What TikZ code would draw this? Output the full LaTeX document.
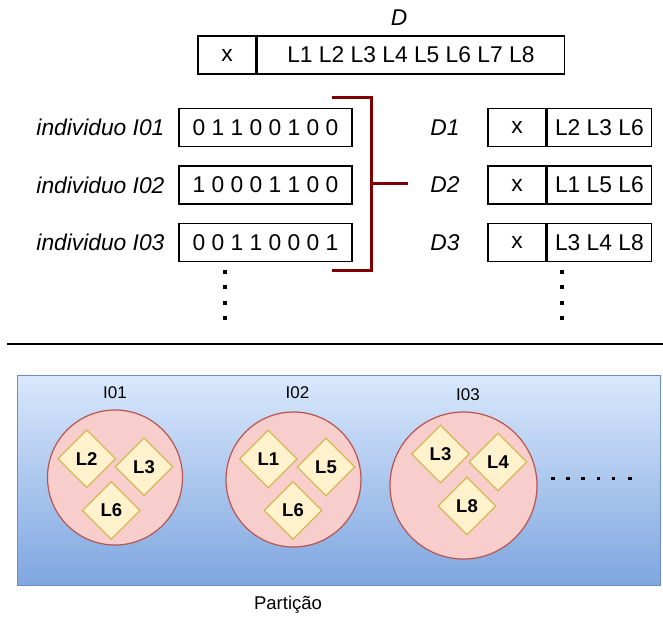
\documentclass[tikz,border=0pt]{standalone}
\usepackage{fontspec}
\setmainfont{Liberation Sans}
\usepackage{tikz}
\usetikzlibrary{positioning, shapes.geometric}
\usepackage{xcolor}
\definecolor{brackred}{HTML}{800000}
\definecolor{grpfill}{HTML}{F8CECC}
\definecolor{grpline}{HTML}{B85450}
\definecolor{itemfill}{HTML}{FFF2CC}
\definecolor{itemline}{HTML}{D6B656}
\definecolor{parttop}{HTML}{DAE8FC}
\definecolor{partbot}{HTML}{7EA6E0}
\definecolor{partline}{HTML}{6C8EBF}
\tikzset{%
	cell/.style={
		draw,
		line width=1.4pt,
		minimum height=38pt,
		inner sep=0pt,
		font=\fontsize{22.8}{26}\selectfont
	},
	rowlabel/.style={
		font=\fontsize{22.8}{26}\selectfont\itshape
	},
	group/.style={
		circle,
		draw=grpline,
		fill=grpfill,
		line width=1.2pt,
		inner sep=0pt
	},
	grouplabel/.style={
		font=\fontsize{17}{20}\selectfont
	},
	item/.style={
		diamond,
		draw=itemline,
		fill=itemfill,
		line width=1.2pt,
		minimum width=58pt,
		minimum height=58pt,
		inner sep=0pt,
		font=\fontsize{18.5}{21}\selectfont\bfseries
	},
	partbox/.style={
		draw=partline,
		line width=1pt,
		top color=parttop,
		bottom color=partbot,
		inner sep=0pt
	},
	bracket/.style={
		draw=brackred,
		line width=3pt
	},
}

\begin{document}
\begin{tikzpicture}[x=1pt,y=-1pt]
			\useasboundingbox (0,0) rectangle (663,617);
			
			% Draw the full set D
			\node[rowlabel] (dlabel) at (399,18) {D};
			\node[cell, minimum width=58pt] (dx) at (227,55) {x};
			\node[cell, minimum width=307pt, right=0pt of dx] (dall) {L1 L2 L3 L4 L5 L6 L7 L8};
			
			% Draw the individuals
			\node[cell, minimum width=173pt] (i1) at (265.5,127.5) {0 1 1 0 0 1 0 0};
			\node[cell, minimum width=173pt] (i2) at (265.5,185) {1 0 0 0 1 1 0 0};
			\node[cell, minimum width=173pt] (i3) at (265.5,242.5) {0 0 1 1 0 0 0 1};
			\node[rowlabel, anchor=east] (i1label) at (168,127.5) {individuo I01};
			\node[rowlabel, anchor=east] (i2label) at (168,185) {individuo I02};
			\node[rowlabel, anchor=east] (i3label) at (168,242.5) {individuo I03};
			\foreach \y in {272,287.3,302.7,318}
				\fill (223.3,\y-2) rectangle (226.7,\y+2);
			
			% Draw the bracket
			\coordinate (btop) at (332,98);
			\coordinate (bbot) at (332,271);
			\coordinate (bmid) at (371,184);
			\coordinate (bend) at (408,184);
			\draw[bracket] (btop) -| (bmid) |- (bbot);
			\draw[bracket] (bmid) -- (bend);
			
			% Draw the subsets D1 D2 D3
			\node[rowlabel] (d1label) at (445,128) {D1};
			\node[rowlabel] (d2label) at (445,185) {D2};
			\node[rowlabel] (d3label) at (445,242.5) {D3};
			\node[cell, minimum width=58pt] (d1x) at (517,127.5) {x};
			\node[cell, minimum width=104pt, right=0pt of d1x] (d1) {L2 L3 L6};
			\node[cell, minimum width=58pt] (d2x) at (517,185) {x};
			\node[cell, minimum width=104pt, right=0pt of d2x] (d2) {L1 L5 L6};
			\node[cell, minimum width=58pt] (d3x) at (517,242.5) {x};
			\node[cell, minimum width=104pt, right=0pt of d3x] (d3) {L3 L4 L8};
			\foreach \y in {272,287.3,302.7,318}
				\fill (560.3,\y-2) rectangle (563.7,\y+2);
			
			% Draw the separator
			\coordinate (sepl) at (7,344);
			\coordinate (sepr) at (663,344);
			\draw[line width=1.6pt] (sepl) -- (sepr);
			
			% Draw the partition
			\node[partbox, minimum width=643pt, minimum height=210pt] (part) at (338.5,480) {};
			\node[font=\fontsize{18.5}{21}\selectfont] (parttext) at (288,605) {Partição};
			
			% Draw the groups
			\node[group, minimum size=135pt] (g1) at (115,477.5) {};
			\node[group, minimum size=135pt] (g2) at (293.5,479.5) {};
			\node[group, minimum size=147pt] (g3) at (463.5,485.5) {};
			\node[grouplabel] (g1label) at (115,393) {I01};
			\node[grouplabel] (g2label) at (297.5,393) {I02};
			\node[grouplabel] (g3label) at (468,395) {I03};
			
			\node[item] (g1a) at (86.7,458.7) {L2};
			\node[item] (g1b) at (144,466.7) {L3};
			\node[item] (g1c) at (111.3,510.5) {L6};
			\node[item] (g2a) at (268.3,459) {L1};
			\node[item] (g2b) at (326,467) {L5};
			\node[item] (g2c) at (293,510.5) {L6};
			\node[item] (g3a) at (440.5,454) {L3};
			\node[item] (g3b) at (498,462) {L4};
			\node[item] (g3c) at (467,506) {L8};
			
			\foreach \x in {552.7,567.7,582.7,598.3,613.3,630}
				\fill (\x-1.8,476.5) rectangle (\x+1.8,480.1);
			
		\end{tikzpicture}
\end{document}
